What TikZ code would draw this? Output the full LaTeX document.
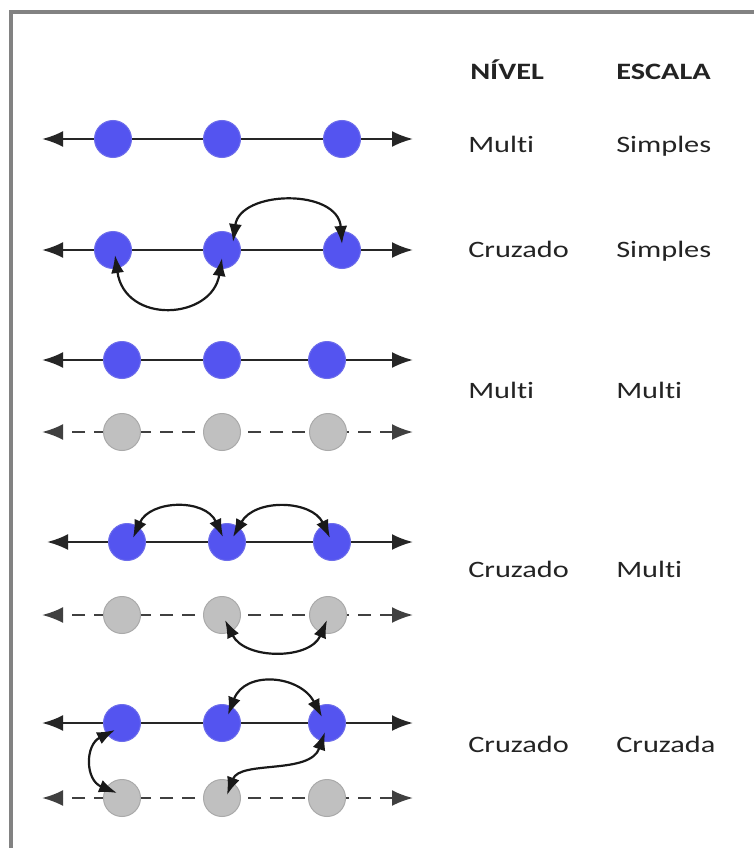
\documentclass[tikz,border=0pt]{standalone}
\usepackage{fontspec}
\setmainfont[Ligatures=NoCommon]{Carlito}
\usetikzlibrary{arrows.meta}
\definecolor{dotblue}{RGB}{84,84,240}
\definecolor{dotblueedge}{RGB}{110,110,235}
\definecolor{dotgray}{RGB}{192,192,192}
\definecolor{dotgrayedge}{RGB}{170,170,170}
\definecolor{framegray}{RGB}{130,130,130}
\definecolor{labelink}{RGB}{35,35,35}
\tikzset{
  axisline/.style={line width=2.4pt, draw=black!85, {Latex[length=21pt,width=16pt]}-{Latex[length=21pt,width=16pt]}},
  dashaxis/.style={axisline, draw=black!75, dash pattern=on 13pt off 9pt},
  bluedot/.style={circle, minimum size=37pt, inner sep=0pt, fill=dotblue, draw=dotblueedge, line width=1pt},
  graydot/.style={circle, minimum size=37pt, inner sep=0pt, fill=dotgray, draw=dotgrayedge, line width=1pt},
  swap/.style={line width=2.2pt, draw=black!90, {Latex[length=18pt,width=13pt]}-{Latex[length=18pt,width=13pt]}},
  lbl/.style={anchor=base west, inner sep=0pt, xscale=1.29, text=labelink, font=\fontsize{23.5}{27}\selectfont},
  hdr/.style={lbl, font=\fontsize{23.5}{27}\selectfont\bfseries}
}
\begin{document}
\begin{tikzpicture}[x=1pt, y=-1pt]
\useasboundingbox (0,0) rectangle (753,848);
\fill[white] (0,0) rectangle (753,848);
% frame running off the right and bottom edges
\draw[framegray, line width=4pt] (11,850) -- (11,12) -- (755,12);

% column headers
\node[hdr] (hnivel) at (470,80) {NÍVEL};
\node[hdr] (hescala) at (616,80) {ESCALA};

% ---- row 1: Multi / Simples
\coordinate (a1l) at (42,139); \coordinate (a1r) at (413,139);
\draw[axisline] (a1r) -- (a1l);
\node[bluedot] (n11) at (113,139) {};
\node[bluedot] (n12) at (222,139) {};
\node[bluedot] (n13) at (342,139) {};
\node[lbl] (l1a) at (468,152) {Multi};
\node[lbl] (l1b) at (616,152) {Simples};

% ---- row 2: Cruzado / Simples
\coordinate (a2l) at (42,250); \coordinate (a2r) at (413,250);
\draw[axisline] (a2r) -- (a2l);
\node[bluedot] (n21) at (113,250) {};
\node[bluedot] (n22) at (222,250) {};
\node[bluedot] (n23) at (342,250) {};
\draw[swap] ([shift={(11,-8)}]n22.center) .. controls (240,190) and (338,188) .. ([shift={(0,-6)}]n23.center);
\draw[swap] ([shift={(2,5)}]n21.center) .. controls (125,325) and (212,320) .. ([shift={(0,8)}]n22.center);
\node[lbl] (l2a) at (468,257) {Cruzado};
\node[lbl] (l2b) at (616,257) {Simples};

% ---- row 3: Multi / Multi
\coordinate (a3l) at (42,360); \coordinate (a3r) at (413,360);
\draw[axisline] (a3r) -- (a3l);
\node[bluedot] (n31) at (122,360) {};
\node[bluedot] (n32) at (222,360) {};
\node[bluedot] (n33) at (327,360) {};
\coordinate (g3l) at (42,432); \coordinate (g3r) at (413,432);
\draw[dashaxis] (g3r) -- (g3l);
\node[graydot] (m31) at (122,432) {};
\node[graydot] (m32) at (222,432) {};
\node[graydot] (m33) at (328,432) {};
\node[lbl] (l3a) at (468,398) {Multi};
\node[lbl] (l3b) at (616,398) {Multi};

% ---- row 4: Cruzado / Multi
\coordinate (a4l) at (47,542); \coordinate (a4r) at (413,542);
\draw[axisline] (a4r) -- (a4l);
\node[bluedot] (n41) at (127,542) {};
\node[bluedot] (n42) at (227,542) {};
\node[bluedot] (n43) at (332,542) {};
\coordinate (g4l) at (42,615); \coordinate (g4r) at (413,615);
\draw[dashaxis] (g4r) -- (g4l);
\node[graydot] (m41) at (122,615) {};
\node[graydot] (m42) at (222,615) {};
\node[graydot] (m43) at (328,615) {};
\draw[swap] ([shift={(6,-4)}]n41.center) .. controls (150,500) and (205,498) .. ([shift={(-4,-5)}]n42.center);
\draw[swap] ([shift={(6,-5)}]n42.center) .. controls (255,498) and (312,500) .. ([shift={(-2,-4)}]n43.center);
\draw[swap] ([shift={(3,5)}]m42.center) .. controls (245,660) and (310,660) .. ([shift={(-1,5)}]m43.center);
\node[lbl] (l4a) at (468,577) {Cruzado};
\node[lbl] (l4b) at (616,577) {Multi};

% ---- row 5: Cruzado / Cruzada
\coordinate (a5l) at (42,723); \coordinate (a5r) at (413,723);
\draw[axisline] (a5r) -- (a5l);
\node[bluedot] (n51) at (122,723) {};
\node[bluedot] (n52) at (222,723) {};
\node[bluedot] (n53) at (327,723) {};
\coordinate (g5l) at (42,798); \coordinate (g5r) at (413,798);
\draw[dashaxis] (g5r) -- (g5l);
\node[graydot] (m51) at (122,798) {};
\node[graydot] (m52) at (222,798) {};
\node[graydot] (m53) at (327,798) {};
\draw[swap] ([shift={(6,-8)}]n52.center) .. controls (245,670) and (300,675) .. ([shift={(-5,-6)}]n53.center);
\draw[swap] ([shift={(-7,7)}]n51.center) .. controls (85,745) and (85,780) .. ([shift={(-5,-5)}]m51.center);
\draw[swap] ([shift={(-2,9)}]n53.center) .. controls (310,775) and (240,760) .. ([shift={(5,-3)}]m52.center);
\node[lbl] (l5a) at (468,752) {Cruzado};
\node[lbl] (l5b) at (616,752) {Cruzada};
\end{tikzpicture}
\end{document}
